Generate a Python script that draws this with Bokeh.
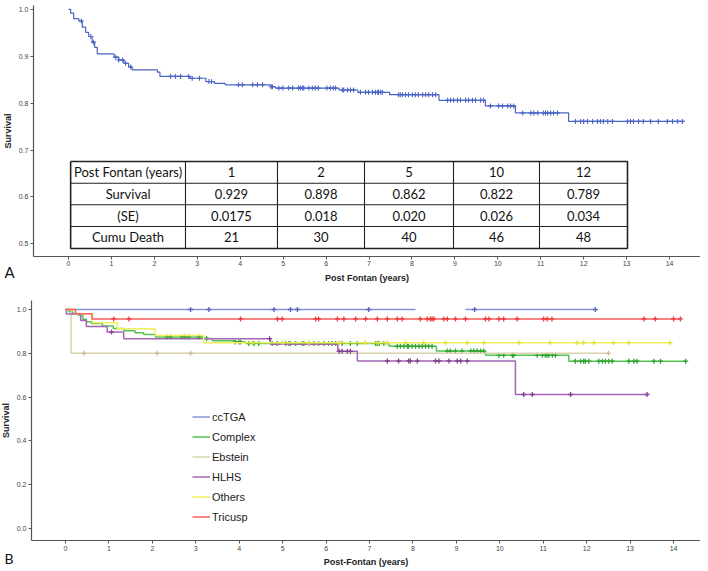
import numpy as np
from bokeh.plotting import figure
from bokeh.layouts import column
from bokeh.models import Range1d, FixedTicker, Legend, LegendItem, Label, PrintfTickFormatter
from bokeh.core.properties import value
from bokeh.embed import file_html
from bokeh.resources import INLINE

# ---------------- data: panel A (whole cohort) ----------------
a_event_t = [0.0, 0.05, 0.12, 0.24, 0.32, 0.40, 0.47, 0.55, 0.61, 0.67, 1.06, 1.17, 1.29, 1.40, 1.48,
             2.07, 2.13, 2.82, 3.20, 3.40, 3.65, 4.71, 4.82, 6.30, 6.74, 7.48, 8.63, 9.71, 10.41, 11.65]
a_surv = [1.0, 0.992, 0.980, 0.975, 0.962, 0.951, 0.942, 0.930, 0.919, 0.905, 0.898, 0.892, 0.885, 0.877, 0.871,
          0.866, 0.857, 0.853, 0.846, 0.842, 0.839, 0.835, 0.832, 0.828, 0.823, 0.818, 0.806, 0.794, 0.779, 0.761]
a_end = 14.33
a_censor = [0.30, 0.52, 0.58, 1.10, 1.17, 1.26, 1.33, 1.45, 2.38, 2.49, 2.61, 2.80, 2.88, 3.05, 3.27, 3.33,
            3.96, 4.05, 4.29, 4.40, 4.52, 4.72, 4.75, 4.90, 4.99, 5.13, 5.22, 5.36, 5.40, 5.45, 5.48, 5.60,
            5.68, 5.75, 5.82, 6.02, 6.10, 6.17, 6.22, 6.38, 6.41, 6.50, 6.57, 6.64, 6.80, 6.92, 6.99, 7.08,
            7.15, 7.20, 7.22, 7.27, 7.31, 7.69, 7.73, 7.78, 7.85, 7.92, 8.01, 8.08, 8.15, 8.25, 8.32, 8.39,
            8.48, 8.55, 8.83, 8.90, 8.97, 9.06, 9.13, 9.25, 9.32, 9.41, 9.48, 9.60, 9.67, 9.83, 10.02, 10.11,
            10.23, 10.30, 10.37, 10.58, 10.77, 10.84, 10.93, 11.06, 11.11, 11.16, 11.23, 11.30, 11.39, 11.81,
            11.93, 12.00, 12.09, 12.21, 12.32, 12.39, 12.46, 12.56, 12.67, 13.02, 13.09, 13.16, 13.28, 13.39,
            13.56, 13.74, 13.95, 14.07, 14.19, 14.30]

# table in panel A
table_header = ["Post Fontan (years)", "1", "2", "5", "10", "12"]
table_survival = ["Survival", "0.929", "0.898", "0.862", "0.822", "0.789"]
table_se = ["(SE)", "0.0175", "0.018", "0.020", "0.026", "0.034"]
table_deaths = ["Cumu Death", "21", "30", "40", "46", "48"]

# ---------------- data: panel B (by diagnosis) ----------------
groups = ["ccTGA", "Complex", "Ebstein", "HLHS", "Others", "Tricusp"]

cctga_event_t = [0.0]
cctga_surv = [1.0]
cctga_end = 12.2
cctga_gap = [8.06, 9.21]
cctga_censor = [2.88, 3.30, 4.80, 5.18, 5.34, 6.98, 9.42, 12.2]

complex_event_t = [0.0, 0.08, 0.16, 0.30, 0.40, 0.48, 0.60, 0.85, 1.10, 1.35, 1.60, 1.80, 2.07, 3.18, 3.38,
                   3.90, 4.15, 7.45, 8.54, 9.67, 11.59]
complex_surv = [1.0, 0.990, 0.982, 0.974, 0.956, 0.944, 0.936, 0.925, 0.913, 0.903, 0.894, 0.886, 0.875, 0.868,
                0.857, 0.852, 0.845, 0.832, 0.810, 0.791, 0.764]
complex_end = 14.28
complex_censor = [2.34, 2.42, 2.69, 2.76, 2.84, 3.07, 3.25, 3.91, 3.99, 4.03, 4.22, 4.34, 4.45, 4.76, 4.87, 5.07,
                  5.14, 5.18, 5.30, 5.45, 5.49, 5.60, 5.72, 5.83, 5.95, 6.06, 6.14, 6.22, 6.37, 6.56, 6.72, 7.14,
                  7.18, 7.22, 7.33, 7.64, 7.71, 7.79, 7.87, 7.90, 7.98, 8.06, 8.14, 8.21, 8.29, 8.36, 8.44, 8.79,
                  8.86, 8.98, 9.13, 9.33, 9.40, 9.48, 9.56, 9.63, 9.98, 10.09, 10.29, 10.32, 10.86, 10.98, 11.05,
                  11.09, 11.13, 11.21, 11.28, 11.74, 11.86, 11.93, 11.97, 12.05, 12.28, 12.36, 12.43, 12.51,
                  12.59, 12.97, 13.09, 13.16, 13.55, 13.70, 14.28]

ebstein_event_t = [0.0, 0.13]
ebstein_surv = [1.0, 0.80]
ebstein_end = 12.5
ebstein_censor = [0.42, 2.11, 2.88, 12.5]

hlhs_event_t = [0.0, 0.02, 0.35, 0.48, 0.96, 1.34, 4.72, 6.27, 6.72, 10.36]
hlhs_surv = [1.0, 0.980, 0.950, 0.922, 0.897, 0.867, 0.841, 0.809, 0.765, 0.612]
hlhs_end = 13.39
hlhs_censor = [1.06, 4.70, 6.30, 6.37, 6.49, 6.56, 7.41, 7.67, 7.90, 7.94, 8.10, 8.52, 8.60, 8.83, 9.02, 9.10,
               9.25, 10.55, 10.75, 11.63, 13.39]

others_event_t = [0.0, 0.23, 0.62, 1.19, 2.07, 3.18]
others_surv = [1.0, 0.981, 0.940, 0.912, 0.881, 0.848]
others_end = 13.92
others_censor = [4.30, 5.00, 5.60, 6.30, 6.90, 7.20, 7.41, 7.83, 8.25, 8.75, 9.25, 9.63, 10.44, 11.16, 11.78,
                 11.93, 12.16, 12.62, 12.97, 13.92]

tricusp_event_t = [0.0, 0.23, 0.61]
tricusp_surv = [1.0, 0.981, 0.957]
tricusp_end = 14.16
tricusp_censor = [1.11, 1.46, 4.03, 4.88, 4.99, 5.76, 5.83, 6.26, 6.41, 6.68, 6.91, 7.18, 7.41, 7.64, 7.75, 8.17,
                  8.33, 8.40, 8.44, 8.48, 8.71, 8.79, 8.98, 9.21, 9.67, 9.75, 9.98, 10.09, 10.40, 11.01, 11.09,
                  11.20, 13.32, 13.58, 14.00, 14.16]

x_ticks = list(range(0, 15))
a_y_ticks = [0.5, 0.6, 0.7, 0.8, 0.9, 1.0]
b_y_ticks = [0.0, 0.2, 0.4, 0.6, 0.8, 1.0]

# ---------------- styles / layout ----------------
FONT_N = "'Liberation Sans Narrow', 'Arial Narrow', 'Liberation Sans', sans-serif"
FONT_T = "Lato, 'Open Sans', sans-serif"
AXIS_COL = "#555555"

# axis extents (plot units) -- the frame covers the whole figure, axes are pinned
A_XAXIS_AT, A_YAXIS_AT = 0.473, -0.815
A_X_BOUNDS, A_Y_BOUNDS = (-0.815, 14.908), (0.473, 1.008)
B_XAXIS_AT, B_YAXIS_AT = -0.055, -0.783
B_X_BOUNDS, B_Y_BOUNDS = (-0.783, 14.645), (-0.055, 1.041)

# table layout (in plot units of panel A)
tbl_col_edges = [0.05, 2.725, 4.868, 6.895, 8.968, 10.971, 13.021]
tbl_row_edges = [0.6755, 0.6292, 0.5832, 0.5369, 0.4900]


def km_path(event_t, surv, end_t):
    return list(event_t) + [end_t], list(surv) + [surv[-1]]


def censor_y(event_t, surv, cens):
    idx = np.searchsorted(np.asarray(event_t), np.asarray(cens), side="right") - 1
    return [surv[i] for i in idx]


def style_axes(p, xat, yat, xb, yb):
    p.grid.visible = False
    p.outline_line_color = None
    p.background_fill_color = "white"
    p.border_fill_color = "white"
    for ax in (p.xaxis[0], p.yaxis[0]):
        ax.axis_line_color = AXIS_COL
        ax.axis_line_width = 1.2
        ax.major_tick_line_color = AXIS_COL
        ax.major_tick_out = 3
        ax.major_tick_in = 0
        ax.minor_tick_line_color = None
        ax.major_label_text_font_size = "7px"
        ax.major_label_text_color = "#444444"
        ax.major_label_text_font = FONT_N
        ax.axis_label_text_font = FONT_N
        ax.axis_label_text_font_style = "bold"
        ax.axis_label_text_font_size = "9px"
        ax.axis_label_text_color = "#222222"
        ax.axis_label_standoff = 3
        ax.major_label_standoff = 2
    p.xaxis[0].ticker = FixedTicker(ticks=x_ticks)
    p.yaxis[0].formatter = PrintfTickFormatter(format="%.1f")
    p.xaxis[0].fixed_location = xat
    p.yaxis[0].fixed_location = yat
    p.xaxis[0].bounds = xb
    p.yaxis[0].bounds = yb


# ---------------- panel A ----------------
pa = figure(width=700, height=290, output_backend="svg", toolbar_location=None,
            x_range=Range1d(-1.5840, 14.7216), y_range=Range1d(0.4004, 1.0188),
            min_border_left=0, min_border_right=0, min_border_top=0, min_border_bottom=0,
            x_axis_label="Post Fontan (years)", y_axis_label="Survival")
style_axes(pa, A_XAXIS_AT, A_YAXIS_AT, A_X_BOUNDS, A_Y_BOUNDS)
pa.yaxis[0].ticker = FixedTicker(ticks=a_y_ticks)

ax_, ay_ = km_path(a_event_t, a_surv, a_end)
A_BLUE = "#4a64c4"
pa.step(ax_, ay_, mode="after", line_color=A_BLUE, line_width=1.2)
pa.scatter(a_censor, censor_y(a_event_t, a_surv, a_censor), marker="cross", size=5,
           line_color=A_BLUE, line_width=1.1)

# table
rows = [table_header, table_survival, table_se, table_deaths]
ymin, ymax = tbl_row_edges[-1], tbl_row_edges[0]
xmin, xmax = tbl_col_edges[0], tbl_col_edges[-1]
inner_x = tbl_col_edges[1:-1]
inner_y = tbl_row_edges[1:-1]
pa.multi_line(xs=[[x, x] for x in inner_x] + [[xmin, xmax] for _ in inner_y],
              ys=[[ymin, ymax] for _ in inner_x] + [[y, y] for y in inner_y],
              line_color="#222222", line_width=1.1)
pa.multi_line(xs=[[xmin, xmax, xmax, xmin, xmin]], ys=[[ymax, ymax, ymin, ymin, ymax]],
              line_color="#222222", line_width=1.6)
tx, ty, tt = [], [], []
for r, row in enumerate(rows):
    yc = (tbl_row_edges[r] + tbl_row_edges[r + 1]) / 2
    for c, txt in enumerate(row):
        tx.append((tbl_col_edges[c] + tbl_col_edges[c + 1]) / 2)
        ty.append(yc)
        tt.append(txt)
pa.text(x=tx, y=ty, text=tt, text_align="center", text_baseline="middle",
        text_font=value(FONT_T), text_font_size="13px", text_color="#111111")

pa.add_layout(Label(x=-1.491, y=0.4388, text="A", text_font=FONT_T, text_font_size="15px",
                    text_color="#111111", text_align="left", text_baseline="middle"))

# ---------------- panel B ----------------
pb = figure(width=700, height=281, output_backend="svg", toolbar_location=None,
            x_range=Range1d(-1.4967, 14.6212), y_range=Range1d(-0.1963, 1.0868),
            min_border_left=0, min_border_right=0, min_border_top=0, min_border_bottom=0,
            x_axis_label="Post-Fontan (years)", y_axis_label="Survival")
style_axes(pb, B_XAXIS_AT, B_YAXIS_AT, B_X_BOUNDS, B_Y_BOUNDS)
pb.yaxis[0].ticker = FixedTicker(ticks=b_y_ticks)

series = [
    ("ccTGA", cctga_event_t, cctga_surv, cctga_end, cctga_censor, "#8593d8", "#5566c0"),
    ("Complex", complex_event_t, complex_surv, complex_end, complex_censor, "#52c452", "#2fa32f"),
    ("Ebstein", ebstein_event_t, ebstein_surv, ebstein_end, ebstein_censor, "#d8d3ad", "#c4bd90"),
    ("HLHS", hlhs_event_t, hlhs_surv, hlhs_end, hlhs_censor, "#a466b4", "#83408f"),
    ("Others", others_event_t, others_surv, others_end, others_censor, "#f0f05a", "#e0e040"),
    ("Tricusp", tricusp_event_t, tricusp_surv, tricusp_end, tricusp_censor, "#ff5c5c", "#f03a3a"),
]
items = []
for name, et, sv, end, cens, col, mcol in series:
    xs, ys = km_path(et, sv, end)
    if name == "ccTGA":
        xs = [0.0, cctga_gap[0], np.nan, cctga_gap[1], end]
        ys = [sv[0], sv[0], np.nan, sv[0], sv[0]]
        r = pb.line(xs, ys, line_color=col, line_width=1.5)
    else:
        r = pb.step(xs, ys, mode="after", line_color=col, line_width=1.5)
    pb.scatter(cens, censor_y(et, sv, cens), marker="cross", size=5, line_color=mcol, line_width=1.3)
    items.append(LegendItem(label=name, renderers=[r]))

legend = Legend(items=items, location=(192, 47), orientation="vertical",
                label_text_font=FONT_N, label_text_font_size="11px", label_text_color="#222222",
                glyph_width=18, glyph_height=15, label_height=15, label_standoff=2, spacing=5,
                padding=0, margin=0, border_line_color=None, background_fill_alpha=0)
pb.add_layout(legend, "center")

pb.add_layout(Label(x=-1.405, y=-0.137, text="B", text_font=FONT_T, text_font_size="14px",
                    text_color="#111111", text_align="left", text_baseline="middle"))

layout = column(pa, pb, spacing=0)
open("out.html", "w").write(file_html(layout, INLINE))
